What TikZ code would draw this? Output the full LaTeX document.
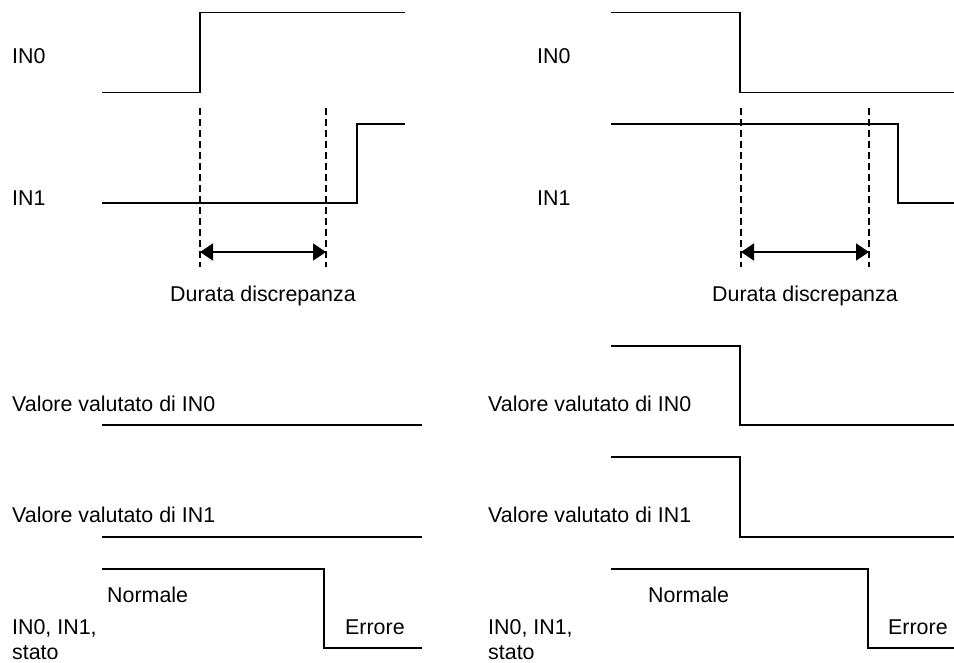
\documentclass[tikz,border=0pt]{standalone}
\usepackage{fontspec}
\setmainfont{Liberation Sans}
\usetikzlibrary{arrows.meta,positioning,calc}

\begin{document}
\begin{tikzpicture}[x=1pt,y=-1pt,
    signal/.style={line width=1.6pt},
    guide/.style={line width=1.2pt,dash pattern=on 7pt off 4pt},
    span/.style={line width=1.5pt,{Triangle[length=13pt,width=17pt]}-{Triangle[length=13pt,width=17pt]}},
    lbl/.style={anchor=base west,inner sep=0pt,font=\fontsize{21.4}{25}\selectfont}]
  \useasboundingbox (0,0) rectangle (954,662);
  % left: IN1 follows too late
  \node[lbl] (ain0) at (12,63) {IN0};
  \node[lbl] (ain1) at (12,205) {IN1};
  \draw[signal] (102,92.5) -- (200,92.5) -- (200,12.5) -- (405,12.5);
  \draw[signal] (102,203) -- (357,203) -- (357,124) -- (405,124);
  \draw[guide] (200,108) -- (200,267);
  \draw[guide] (326,108) -- (326,267);
  \coordinate (ad0) at (200,252);
  \coordinate (ad1) at (326,252);
  \draw[span] (ad0) -- (ad1);
  \node[lbl,anchor=base] (adur) at (263,301) {Durata discrepanza};
  \node[lbl] (aev0) at (12,411) {Valore valutato di IN0};
  \draw[signal] (102,425) -- (422,425);
  \node[lbl] (aev1) at (12,522.5) {Valore valutato di IN1};
  \draw[signal] (102,537) -- (422,537);
  \draw[signal] (102,569) -- (324,569) -- (324,648) -- (422,648);
  \node[lbl] (anorm) at (107,602.5) {Normale};
  \node[lbl] (aerr) at (345,634) {Errore};
  \node[lbl] (ast0) at (12,634) {IN0, IN1,};
  \node[lbl] (ast1) at (12,659) {stato};
  % right: IN1 drops too late
  \node[lbl] (bin0) at (537,63) {IN0};
  \node[lbl] (bin1) at (537,205) {IN1};
  \draw[signal] (611,12.5) -- (740,12.5) -- (740,92.5) -- (954,92.5);
  \draw[signal] (611,124) -- (898,124) -- (898,203) -- (954,203);
  \draw[guide] (741,108) -- (741,267);
  \draw[guide] (869,108) -- (869,267);
  \coordinate (bd0) at (741,252);
  \coordinate (bd1) at (869,252);
  \draw[span] (bd0) -- (bd1);
  \node[lbl,anchor=base] (bdur) at (805,301) {Durata discrepanza};
  \node[lbl] (bev0) at (488,411) {Valore valutato di IN0};
  \draw[signal] (611,346) -- (740,346) -- (740,425) -- (954,425);
  \node[lbl] (bev1) at (488,522.5) {Valore valutato di IN1};
  \draw[signal] (611,457) -- (740,457) -- (740,537) -- (954,537);
  \draw[signal] (611,569) -- (868,569) -- (868,648) -- (954,648);
  \node[lbl] (bnorm) at (648,602.5) {Normale};
  \node[lbl] (berr) at (888,634) {Errore};
  \node[lbl] (bst0) at (488,634) {IN0, IN1,};
  \node[lbl] (bst1) at (488,659) {stato};
\end{tikzpicture}
\end{document}
